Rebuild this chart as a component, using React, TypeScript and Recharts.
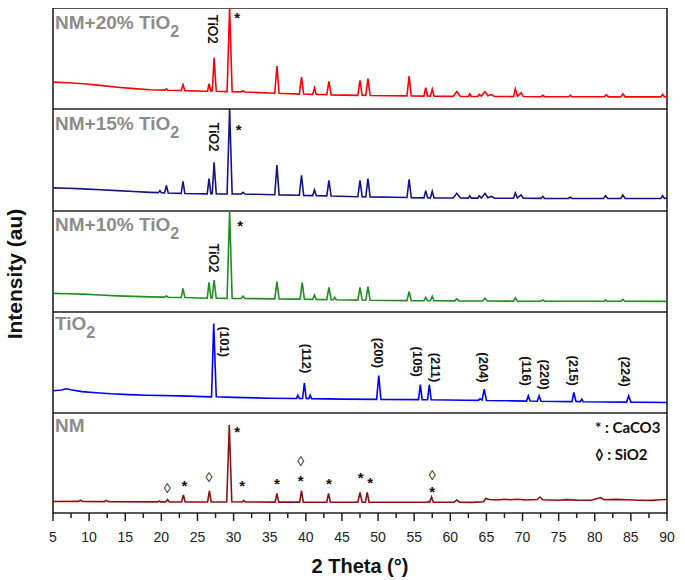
import React from 'react';
import { LineChart, Line, XAxis, YAxis, ReferenceArea, ReferenceDot } from 'recharts';

const SANS = '"Liberation Sans", Arial, sans-serif';
const HUMAN = 'Lato, "Open Sans", sans-serif';

// 2θ tick positions (labels only on multiples of 5)
const xTicks = [5, 7.5, 10, 12.5, 15, 17.5, 20, 22.5, 25, 27.5, 30, 32.5, 35, 37.5, 40, 42.5, 45, 47.5, 50, 52.5, 55, 57.5, 60, 62.5, 65, 67.5, 70, 72.5, 75, 77.5, 80, 82.5, 85, 87.5, 90];

// [2θ, intensity] (panel height = 100)
const nm20 = [
  [5, 26.6], [7, 26], [9.2, 25], [11.5, 23.4], [13.9, 21.6], [16.2, 20.2], [18.4, 19], [20.5, 18.7], [20.7, 20], [20.9, 18.6],
  [22.75, 18.3], [23.0, 24], [23.25, 18.2], [25.8, 17.6], [26.4, 17.6], [26.6, 25], [26.85, 17.8], [27.05, 18], [27.3, 50.6], [27.6, 17.5],
  [29.1, 17.2], [29.45, 100], [29.8, 17.2], [31.05, 16.8], [31.3, 18], [31.55, 16.8], [35.7, 15.6], [36.0, 42.6], [36.3, 15.5],
  [39.1, 14.8], [39.4, 31.6], [39.7, 14.8], [40.95, 14.5], [41.2, 21], [41.45, 14.4], [42.9, 14.2], [43.2, 27.3], [43.5, 14],
  [47.2, 13.5], [47.5, 28.3], [47.8, 13.6], [48.3, 13.5], [48.6, 30], [48.9, 13.4], [54.0, 13], [54.3, 32.6], [54.6, 13],
  [56.35, 12.8], [56.6, 21], [56.85, 13], [57.25, 12.8], [57.5, 19.6], [57.75, 12.6], [60.4, 12.5], [60.9, 17.3], [61.4, 12.5],
  [62.5, 12.4], [62.7, 15], [62.9, 12.4], [63.8, 12.4], [64.0, 14.5], [64.3, 12.8], [64.8, 17.3], [65.2, 13], [65.7, 14.3], [66.1, 12.4],
  [68.75, 12.3], [69.0, 20], [69.3, 12.6], [69.8, 16], [70.1, 12.3], [72.55, 12.2], [72.8, 13.6], [73.05, 12.2], [76.35, 12.1], [76.6, 13.5],
  [76.85, 12.1], [81.3, 12.1], [81.6, 14], [81.9, 12], [83.6, 12], [83.9, 15], [84.2, 12], [89.15, 12], [89.4, 14.5], [89.65, 12], [90, 12.3],
];

const nm15 = [
  [5, 22.7], [7, 22.3], [9.2, 21.7], [11.5, 20.8], [13.9, 20], [16.2, 19.1], [18.4, 18.3], [19.6, 18], [19.8, 20], [20, 17.9],
  [20.45, 17.8], [20.7, 25], [20.95, 17.7], [22.75, 17.3], [23.0, 29], [23.25, 17.2], [26.35, 16.8], [26.6, 31.7], [26.85, 17], [27.05, 17],
  [27.3, 47.7], [27.6, 16.8], [29.1, 16.7], [29.45, 100], [29.8, 16.7], [31.05, 16.7], [31.3, 18.3], [31.55, 16.6], [35.7, 15.9], [36.0, 45],
  [36.3, 15.8], [39.1, 15.4], [39.4, 35], [39.7, 15.3], [40.95, 15.1], [41.2, 20.7], [41.45, 15], [42.9, 14.8], [43.2, 30], [43.5, 14.7],
  [47.2, 14], [47.5, 30], [47.8, 14], [48.3, 13.9], [48.6, 31.7], [48.9, 13.8], [54.0, 13.2], [54.3, 31], [54.6, 13.1],
  [56.35, 12.9], [56.6, 20], [56.85, 13], [57.25, 12.9], [57.5, 19.3], [57.75, 12.8], [60.4, 12.7], [60.9, 17.3], [61.4, 12.7],
  [62.5, 12.6], [62.7, 15], [62.9, 12.6], [63.8, 12.6], [64.0, 15], [64.3, 12.8], [64.8, 17.3], [65.2, 13], [65.7, 14.3], [66.1, 12.5],
  [68.75, 12.5], [69.0, 17.7], [69.3, 12.7], [69.8, 15.7], [70.1, 12.5], [72.55, 12.4], [72.8, 14.3], [73.05, 12.4], [76.35, 12.3], [76.6, 13.5],
  [76.85, 12.3], [81.2, 12.3], [81.5, 15], [81.8, 12.3], [83.6, 12.3], [83.9, 15.7], [84.2, 12.3], [89.15, 12.3], [89.4, 15], [89.65, 12.3], [90, 12.6],
];

const nm10 = [
  [5, 18.4], [7, 18.1], [9.2, 17.7], [11.5, 16.8], [13.9, 16], [16.2, 15.5], [18.4, 15], [20.45, 14.7], [20.7, 15.9], [20.95, 14.6],
  [22.75, 14.4], [23.0, 23.4], [23.25, 14.3], [26.35, 13.6], [26.6, 29.4], [26.85, 13.8], [27.05, 13.8], [27.3, 31.7], [27.6, 13.6],
  [29.1, 13.5], [29.45, 100], [29.8, 13.5], [31.05, 13.4], [31.3, 15.7], [31.55, 13.4], [35.7, 13], [36.0, 30], [36.3, 13],
  [39.2, 12.7], [39.5, 29], [39.8, 12.7], [40.95, 12.5], [41.2, 16.7], [41.45, 12.5], [42.9, 12.3], [43.2, 24.4], [43.5, 12.2],
  [43.8, 12.2], [44.0, 14.4], [44.2, 12.1], [47.2, 11.8], [47.5, 24.4], [47.8, 11.8], [48.3, 11.7], [48.6, 25], [48.9, 11.7],
  [54.0, 11.3], [54.3, 20], [54.6, 11.3], [56.35, 11.2], [56.6, 14.5], [56.85, 11.2], [57.25, 11.2], [57.5, 15.5], [57.75, 11.1],
  [60.6, 11], [60.9, 13], [61.2, 11], [64.5, 10.9], [64.8, 13.5], [65.1, 10.9], [68.75, 10.8], [69.0, 14], [69.3, 10.8],
  [72.55, 10.7], [72.8, 12], [73.05, 10.7], [81.25, 10.6], [81.5, 12], [81.75, 10.6], [83.65, 10.6], [83.9, 12.5], [84.15, 10.6], [90, 10.5],
];

const tio2 = [
  [5, 22], [6.2, 22.8], [6.8, 24], [7.5, 23], [9, 21.2], [11, 20], [13, 19], [15.5, 18.2], [18, 17.6], [22.6, 17],
  [26.95, 16], [27.25, 88.7], [27.6, 16], [30, 15.5], [35, 14.6], [38.7, 14.3], [38.9, 17.5], [39.1, 14.3], [39.55, 14.3], [39.8, 29.7],
  [40.05, 14.3], [40.4, 14.2], [40.6, 17.7], [40.8, 14.2], [45, 13.7], [49.8, 13.5], [50.1, 37], [50.4, 13.5], [55.6, 13.2], [55.85, 28],
  [56.1, 13.2], [56.85, 13.1], [57.1, 28], [57.35, 13.1], [62, 12.6], [63.9, 12.5], [64.1, 14], [64.4, 12.8], [64.7, 23.7], [65.0, 12.4],
  [68.8, 12], [70.55, 11.8], [70.8, 17], [71.05, 11.8], [72.05, 11.7], [72.3, 17], [72.55, 11.7], [76.85, 11.3], [77.1, 20.3], [77.4, 11.4],
  [78.0, 11.3], [78.2, 13.7], [78.4, 11.2], [84.4, 10.8], [84.7, 17], [85.0, 10.8], [90, 10.4],
];

const nm = [
  [5, 11.5], [8.5, 11.6], [8.8, 12.8], [9.1, 11.5], [12.1, 11.4], [12.4, 12.6], [12.7, 11.3], [19.5, 11.1], [19.7, 12], [19.9, 11.1],
  [20.6, 11.1], [20.85, 13.5], [21.1, 11.1], [22.8, 11], [23.05, 18], [23.3, 11], [26.4, 11], [26.65, 22], [26.9, 11], [29.05, 11],
  [29.4, 88], [29.75, 11.2], [31.2, 11], [31.4, 12.5], [31.6, 11], [35.75, 10.9], [36.0, 19.5], [36.25, 10.9], [39.15, 10.9], [39.4, 22.5],
  [39.65, 10.9], [42.9, 10.8], [43.15, 19.5], [43.4, 10.8], [47.2, 10.8], [47.5, 20.5], [47.8, 10.9], [48.25, 10.8], [48.5, 20.7], [48.75, 10.8],
  [56.8, 10.7], [57.0, 11.5], [57.15, 10.7], [57.4, 16], [57.65, 10.7], [60.5, 10.7], [60.9, 13], [61.3, 10.8], [63, 10.6], [64.6, 11.2],
  [64.9, 14.5], [65.4, 13.5], [66.5, 13], [67.5, 13.8], [68.3, 13.3], [69.3, 13.8], [70.5, 13], [72.0, 13.5], [72.4, 16], [72.8, 13.2],
  [75, 12.8], [76, 13.4], [77.5, 12.9], [79.5, 12.8], [80.8, 15.5], [81.3, 13.3], [83, 13.6], [84.5, 13.2], [86, 12.7], [88, 12.6], [89, 13.2], [90, 13.5],
];

// annotations
const hklLabels = [
  { x: 28.8, y: 70.5, t: '(101)' },
  { x: 40.1, y: 54, t: '(112)' },
  { x: 50.1, y: 59.5, t: '(200)' },
  { x: 55.4, y: 50.7, t: '(105)' },
  { x: 57.9, y: 45, t: '(211)' },
  { x: 64.6, y: 45, t: '(204)' },
  { x: 70.5, y: 41.5, t: '(116)' },
  { x: 73.0, y: 38, t: '(220)' },
  { x: 77.0, y: 42, t: '(215)' },
  { x: 84.2, y: 41, t: '(224)' },
];

const nmMarks = [
  { x: 20.8, y: 25.5, s: '◊' },
  { x: 23.2, y: 31, s: '*' },
  { x: 26.6, y: 36, s: '◊' },
  { x: 30.5, y: 85, s: '*' },
  { x: 31.2, y: 31, s: '*' },
  { x: 36.0, y: 33, s: '*' },
  { x: 39.3, y: 52, s: '◊' },
  { x: 39.3, y: 36, s: '*' },
  { x: 43.2, y: 33, s: '*' },
  { x: 47.6, y: 38.5, s: '*' },
  { x: 48.9, y: 34, s: '*' },
  { x: 57.5, y: 38, s: '◊' },
  { x: 57.5, y: 24.5, s: '*' },
];

const rows = (pts: number[][]) => pts.map(([x, y]) => ({ x, y }));

const symbolShape = (s: string) => (p: any) =>
  s === '*' ? (
    <text x={p.cx} y={p.cy + 8.5} textAnchor="middle" fontSize={15} fontWeight="bold" fontFamily={SANS} fill="#111">*</text>
  ) : (
    <text x={p.cx} y={p.cy + 5} textAnchor="middle" fontSize={14} fontFamily={SANS} fill="#111">◊</text>
  );

const rotatedShape = (t: string, family: string, size: number) => (p: any) => (
  <text
    x={p.cx}
    y={p.cy}
    transform={`rotate(90 ${p.cx} ${p.cy})`}
    textAnchor="middle"
    dominantBaseline="central"
    fontSize={size}
    fontWeight="bold"
    fontFamily={family}
    fill="#111"
  >
    {t}
  </text>
);

const renderTick = (p: any) => {
  const v = p.payload.value;
  const major = v % 5 === 0;
  return (
    <g>
      <line x1={p.x} x2={p.x} y1={p.y} y2={p.y + (major ? 8 : 5)} stroke="#222" strokeWidth={1.5} />
      {major && (
        <text x={p.x} y={p.y + 29} textAnchor="middle" fontSize={14} fontFamily={SANS} fill="#222">
          {v}
        </text>
      )}
    </g>
  );
};

function Panel({ pts, color, top, height, axis = false, children }: any) {
  return (
    <div style={{ position: 'absolute', left: 0, top }}>
      <LineChart width={685} height={height + (axis ? 60 : 0)} data={rows(pts)} margin={{ top: 0, right: 18, bottom: 0, left: 53 }}>
        <XAxis
          dataKey="x"
          type="number"
          domain={[5, 90]}
          ticks={xTicks}
          interval={0}
          hide={!axis}
          height={60}
          axisLine={false}
          tickLine={false}
          tickSize={0}
          tickMargin={0}
          tick={renderTick}
          allowDataOverflow
        />
        <YAxis type="number" domain={[0, 100]} hide allowDataOverflow />
        <ReferenceArea x1={5} x2={90} y1={0} y2={100} fill="none" stroke="#222" strokeWidth={1.6} ifOverflow="visible" />
        <Line type="linear" dataKey="y" stroke={color} strokeWidth={1.6} dot={false} isAnimationActive={false} />
        {children}
      </LineChart>
    </div>
  );
}

function TiTag({ tag, star }: any) {
  return (
    <>
      <ReferenceDot x={tag[0]} y={tag[1]} r={1} ifOverflow="visible" shape={rotatedShape('TiO2', HUMAN, 13)} />
      <ReferenceDot x={star[0]} y={star[1]} r={1} ifOverflow="visible" shape={symbolShape('*')} />
    </>
  );
}

export default function App() {
  const nameStyle = { fontSize: 19, fontWeight: 'bold' as const, fontFamily: SANS, fill: '#8c8c8c' };
  return (
    <div style={{ position: 'absolute', left: 0, top: 0, width: 685, height: 580, background: '#fff' }}>
      <Panel pts={nm20} color="#ff0000" top={8} height={101}>
        {TiTag({ tag: [27.2, 79], star: [30.5, 94] })}
      </Panel>
      <Panel pts={nm15} color="#14148c" top={109} height={102}>
        {TiTag({ tag: [27.3, 72.5], star: [30.7, 83.3] })}
      </Panel>
      <Panel pts={nm10} color="#1f8f1f" top={211} height={101}>
        {TiTag({ tag: [27.25, 53.4], star: [30.9, 89] })}
      </Panel>
      <Panel pts={tio2} color="#0000ff" top={312} height={101}>
        {hklLabels.map((h) => (
          <ReferenceDot key={h.t} x={h.x} y={h.y} r={1} ifOverflow="visible" shape={rotatedShape(h.t, SANS, 13)} />
        ))}
      </Panel>
      <Panel pts={nm} color="#8e1010" top={413} height={100} axis>
        {nmMarks.map((m, i) => (
          <ReferenceDot key={i} x={m.x} y={m.y} r={1} ifOverflow="visible" shape={symbolShape(m.s)} />
        ))}
      </Panel>
      <svg width={685} height={580} style={{ position: 'absolute', left: 0, top: 0, pointerEvents: 'none' }}>
        <text x={55} y={28.5} {...nameStyle}>
          NM+20% TiO<tspan fontSize={16} dy={8}>2</tspan>
        </text>
        <text x={55} y={129.5} {...nameStyle}>
          NM+15% TiO<tspan fontSize={16} dy={8}>2</tspan>
        </text>
        <text x={55} y={230.5} {...nameStyle}>
          NM+10% TiO<tspan fontSize={16} dy={8}>2</tspan>
        </text>
        <text x={55} y={330} {...nameStyle}>
          TiO<tspan fontSize={16} dy={8}>2</tspan>
        </text>
        <text x={55} y={432} {...nameStyle}>NM</text>
        <text x={595} y={433} fontSize={15} fontWeight="bold" fontFamily={HUMAN} fill="#111">* : CaCO3</text>
        <text x={595} y={460} fontSize={15} fontWeight="bold" fontFamily={HUMAN} fill="#111">◊ : SiO2</text>
        <text
          x={22}
          y={274}
          transform="rotate(-90 22 274)"
          textAnchor="middle"
          fontSize={21}
          fontWeight="bold"
          fontFamily={SANS}
          fill="#111"
        >
          Intensity (au)
        </text>
        <text x={360} y={573} textAnchor="middle" fontSize={20} fontWeight="bold" fontFamily={SANS} fill="#111">
          2 Theta (°)
        </text>
      </svg>
    </div>
  );
}
